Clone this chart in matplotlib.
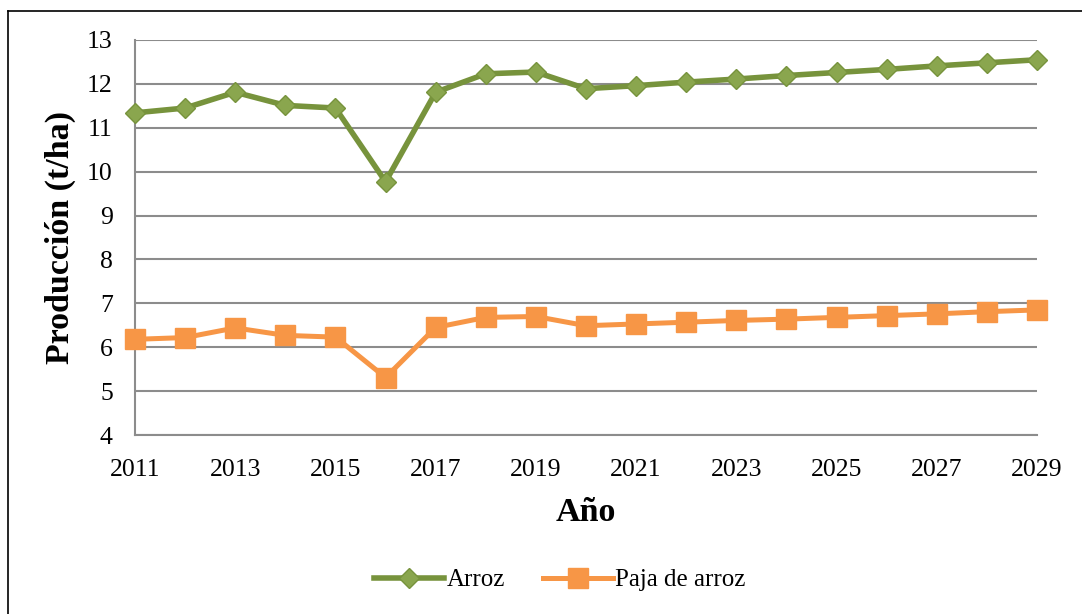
import numpy as np
import matplotlib.pyplot as plt
from matplotlib.lines import Line2D

plt.rcParams['font.family'] = ['Liberation Serif', 'DejaVu Serif']

anios = list(range(2011, 2030))
arroz = [11.34, 11.45, 11.81, 11.51, 11.45, 9.77, 11.81, 12.23, 12.27, 11.89,
         11.96, 12.04, 12.11, 12.19, 12.26, 12.33, 12.41, 12.48, 12.55]
paja = [6.18, 6.22, 6.44, 6.27, 6.23, 5.31, 6.45, 6.68, 6.70, 6.49,
        6.53, 6.57, 6.61, 6.64, 6.68, 6.72, 6.76, 6.81, 6.85]
ticks_x = list(range(2011, 2030, 2))
ticks_y = list(range(4, 14))

verde = '#77933C'
verde_claro = '#8AA64E'
naranja = '#F79646'
gris = '#8C8C8C'

fig = plt.figure(figsize=(10.82, 6.14), dpi=100)
ax = fig.add_axes([135 / 1082, 1 - 435 / 614, (1037 - 135) / 1082, (435 - 40) / 614])

# marco exterior del grafico
fig.add_artist(Line2D([8 / 1082, 1.0], [1 - 11 / 614] * 2, color='black', lw=1.2))
fig.add_artist(Line2D([8 / 1082] * 2, [0, 1 - 11 / 614], color='black', lw=1.2))

ax.plot(anios, arroz, color=verde, lw=4, marker='D', ms=10.5,
        markerfacecolor=verde_claro, markeredgecolor=verde, markeredgewidth=1,
        label='Arroz', zorder=3, clip_on=False)
ax.plot(anios, paja, color=naranja, lw=3.6, marker='s', ms=14,
        markerfacecolor=naranja, markeredgecolor=naranja,
        label='Paja de arroz', zorder=3, clip_on=False)

ax.set_xlim(2011, 2029)
ax.set_ylim(4, 13)
ax.set_xticks(ticks_x)
ax.set_yticks(ticks_y)
ax.tick_params(axis='both', length=0, labelsize=18.5)
ax.tick_params(axis='y', pad=16)
ax.tick_params(axis='x', pad=17)
ax.grid(axis='y', color=gris, lw=1.5)
ax.set_axisbelow(True)
for lado in ['top', 'right']:
    ax.spines[lado].set_visible(False)
for lado in ['left', 'bottom']:
    ax.spines[lado].set_color(gris)
    ax.spines[lado].set_linewidth(1.5)

ax.set_ylabel('Producción (t/ha)', fontsize=24.5, fontweight='bold', labelpad=8)
ax.set_xlabel('Año', fontsize=24.5, fontweight='bold', labelpad=12)

ax.legend(loc='center', bbox_to_anchor=(560 / 1082, 1 - 580 / 614),
          bbox_transform=fig.transFigure, ncol=2, frameon=False,
          fontsize=18, handlelength=2.8, handletextpad=0.1, columnspacing=1.5)

fig.savefig('out.png', dpi=100)
